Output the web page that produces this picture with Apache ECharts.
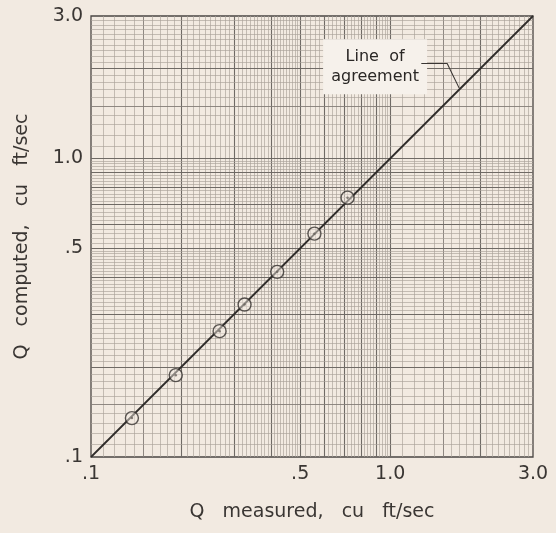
<!DOCTYPE html>
<html>
<head>
<meta charset="utf-8">
<script src="https://cdn.jsdelivr.net/npm/echarts@6/dist/echarts.min.js"></script>
<style>
html,body{margin:0;padding:0;background:#f2eae1;}
#chart{width:556px;height:533px;}
</style>
</head>
<body>
<div id="chart"></div>
<script>
// Data
const qMeasured = [0.137, 0.192, 0.269, 0.326, 0.419, 0.558, 0.720];
const qComputed = [0.135, 0.188, 0.264, 0.324, 0.417, 0.560, 0.739];
const agreementLine = [[0.1, 0.1], [3.0, 3.0]];
const tickValues = [0.1, 0.5, 1.0, 3.0];
const tickLabels = ['.1', '.5', '1.0', '3.0'];
const annotationText = 'Line  of\nagreement';
const annotationAnchor = [0.89, 2.03];
const leaderLine = [[1.27, 2.08], [1.55, 2.08], [1.70, 1.72]];

// Graph-paper ruling: [from, to, step]
const rulingRanges = [[0.10, 0.50, 0.01], [0.50, 1.00, 0.02], [1.00, 3.00, 0.1]];
const heavyRules = [0.2, 0.3, 0.4, 0.5, 0.6, 0.7, 0.8, 0.9, 1.0, 2.0];
const mediumRules = [0.15, 1.5];

function ruleValues() {
  const out = [];
  rulingRanges.forEach(([a, b, s]) => {
    const n = Math.round((b - a) / s);
    for (let i = 0; i < n; i++) {
      const v = +(a + i * s).toFixed(3);
      if (v > 0.1 && v < 3.0) out.push(v);
    }
  });
  return out;
}
const rules = ruleValues();
function ruleStyle(v) {
  const heavy = heavyRules.some(h => Math.abs(h - v) < 1e-6);
  const medium = mediumRules.some(h => Math.abs(h - v) < 1e-6);
  if (heavy) return {color: '#6f6a65', width: 1.1, type: 'solid'};
  if (medium) return {color: '#837d77', width: 0.9, type: 'solid'};
  return {color: '#a8a199', width: 0.65, type: 'solid'};
}
const vLines = rules.map(v => ({xAxis: v, lineStyle: ruleStyle(v)}));
const hLines = rules.map(v => ({yAxis: v, lineStyle: ruleStyle(v)}));

const fontFam = 'DejaVu Sans';
const chart = echarts.init(document.getElementById('chart'));
const labelFmt = v => {
  const i = tickValues.findIndex(t => Math.abs(t - v) < 1e-6);
  return i >= 0 ? tickLabels[i] : '';
};
chart.setOption({
  animation: false,
  backgroundColor: '#f2eae1',
  grid: {left: 91, right: 23, top: 16, bottom: 76, show: true, borderColor: '#4a4643', borderWidth: 1.3, backgroundColor: 'transparent'},
  xAxis: {
    type: 'log', logBase: 10, min: 0.1, max: 3.0,
    name: 'Q   measured,   cu   ft/sec', nameLocation: 'middle', nameGap: 46,
    nameTextStyle: {fontFamily: fontFam, fontSize: 19, color: '#3a3633'},
    axisLine: {show: false}, axisTick: {show: false}, splitLine: {show: false}, minorSplitLine: {show: false},
    axisLabel: {customValues: tickValues, formatter: labelFmt, fontFamily: fontFam, fontSize: 19, color: '#3a3633', margin: 8, showMinLabel: true, showMaxLabel: true}
  },
  yAxis: {
    type: 'log', logBase: 10, min: 0.1, max: 3.0,
    name: 'Q   computed,   cu   ft/sec', nameLocation: 'middle', nameGap: 59,
    nameTextStyle: {fontFamily: fontFam, fontSize: 19, color: '#3a3633'},
    axisLine: {show: false}, axisTick: {show: false}, splitLine: {show: false},
    axisLabel: {customValues: tickValues, formatter: labelFmt, fontFamily: fontFam, fontSize: 19, color: '#3a3633', margin: 8, showMinLabel: true, showMaxLabel: true}
  },
  series: [
    {
      type: 'line', data: agreementLine, symbol: 'none', silent: true, z: 1,
      lineStyle: {opacity: 0},
      markLine: {silent: true, z: 1, symbol: ['none', 'none'], label: {show: false}, animation: false, data: vLines.concat(hLines)}
    },
    {
      type: 'line', data: agreementLine, symbol: 'none', z: 5,
      lineStyle: {color: '#2f2c2a', width: 1.8}
    },
    {
      type: 'line', data: leaderLine, symbol: 'none', z: 9,
      lineStyle: {color: '#3a3633', width: 1.1}
    },
    {
      type: 'scatter', data: [annotationAnchor], symbol: 'rect', symbolSize: [104, 55], z: 8,
      itemStyle: {color: '#f6f1eb', opacity: 1},
      label: {show: true, position: 'inside', formatter: annotationText, fontFamily: fontFam, fontSize: 16, lineHeight: 20, color: '#2a2725', align: 'center'}
    },
    {
      type: 'scatter', data: qMeasured.map((x, i) => [x, qComputed[i]]), symbol: 'circle', symbolSize: 13, z: 6,
      itemStyle: {color: 'rgba(242,234,225,0.6)', borderColor: '#35312e', borderWidth: 1.4}
    },
    {
      type: 'scatter', data: qMeasured.map((x, i) => [x, qComputed[i]]), symbol: 'circle', symbolSize: 2.5, z: 7,
      itemStyle: {color: '#6a645e'}
    }
  ]
});
</script>
</body>
</html>
